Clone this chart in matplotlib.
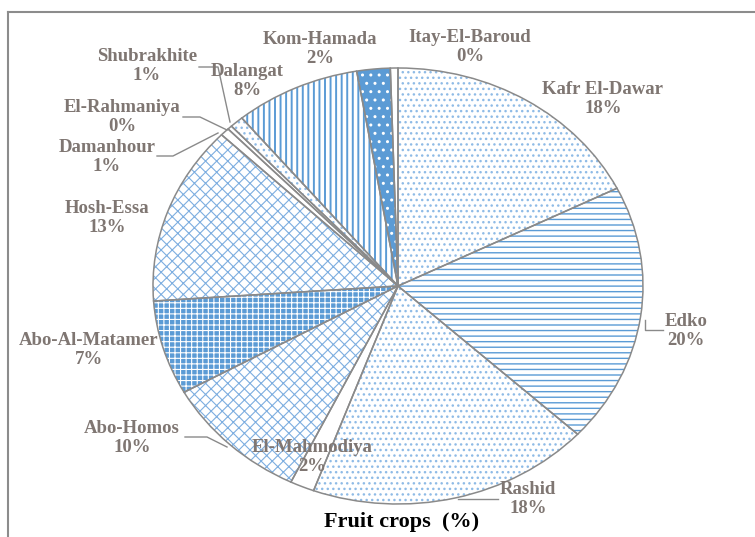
import matplotlib.pyplot as plt
from matplotlib.lines import Line2D

# slices clockwise from 12 o'clock
districts = ['Kafr El-Dawar', 'Edko', 'Rashid', 'El-Mahmodiya', 'Abo-Homos',
             'Abo-Al-Matamer', 'Hosh-Essa', 'Damanhour', 'El-Rahmaniya',
             'Shubrakhite', 'Dalangat', 'Kom-Hamada', 'Itay-El-Baroud']
shares = [17.6, 19.3, 18.7, 1.6, 9.7, 7.0, 13.3, 0.6, 0.3, 0.9, 8.3, 2.2, 0.5]
pct_labels = ['18%', '20%', '18%', '2%', '10%', '7%', '13%', '1%', '0%',
              '1%', '8%', '2%', '0%']

W, H = 755, 537
blue = '#5B9BD5'
light = '#8FBBE6'
cross = '#7DAEE0'
edge_col = '#8A8A8A'
text_col = '#7F7672'

# fill per slice: face colour, hatch, hatch colour, hatch width
fills = [
    ('white', '...', light, 1.0),
    ('white', '---', blue, 1.0),
    ('white', '...', light, 1.0),
    ('white', '', edge_col, 1.0),
    ('white', 'xxx', cross, 0.8),
    (blue, '+++', 'white', 0.8),
    ('white', 'xxx', cross, 0.8),
    ('white', '', edge_col, 1.0),
    ('white', '', edge_col, 1.0),
    ('white', '...', light, 1.0),
    ('white', '|||', blue, 1.4),
    (blue, '..', 'white', 1.0),
    ('white', '', edge_col, 1.0),
]

# label block centres in pixels (x, y from top)
label_pos = [(603, 99), (686, 331), (528, 499), (312, 457), (132, 438),
             (89, 350), (107, 218), (107, 157), (122, 117), (147, 66),
             (247, 81), (320, 49), (470, 47)]

# leader lines in pixels
leaders = [
    [(645, 320), (645, 330), (663, 330)],
    [(458, 499), (498, 499)],
    [(185, 437), (207, 437), (227, 447)],
    [(157, 156), (173, 156), (218, 133)],
    [(183, 117), (200, 117), (227, 130)],
    [(199, 67), (218, 67), (230, 122)],
]

plt.rcParams['hatch.linewidth'] = 1.0

fig = plt.figure(figsize=(W / 100, H / 100), dpi=100)
fig.patch.set_facecolor('white')

cx, cy, rx, ry = 398, 286, 245, 218
ax = fig.add_axes([(cx - rx) / W, 1 - (cy + ry) / H, 2 * rx / W, 2 * ry / H])

wedges, _ = ax.pie(shares, startangle=90, counterclock=False, radius=1,
                   wedgeprops=dict(linewidth=0))
for w, (face, hatch, hcol, hlw) in zip(wedges, fills):
    w.set_facecolor(face)
    w.set_edgecolor(hcol)
    w.set_hatch(hatch)
    if hasattr(w, 'set_hatch_linewidth'):
        w.set_hatch_linewidth(hlw)

ax.pie(shares, startangle=90, counterclock=False, radius=1,
       wedgeprops=dict(fill=False, edgecolor=edge_col, linewidth=1.1))
ax.set_aspect('auto')
ax.set_xlim(-1, 1)
ax.set_ylim(-1, 1)
ax.axis('off')

for name, pct, (x, y) in zip(districts, pct_labels, label_pos):
    fig.text(x / W, 1 - y / H, name + '\n' + pct, ha='center', va='center',
             fontsize=13.5, fontweight='bold', family='Liberation Serif',
             color=text_col, linespacing=1.1)

for pts in leaders:
    xs = [p[0] / W for p in pts]
    ys = [1 - p[1] / H for p in pts]
    fig.add_artist(Line2D(xs, ys, color=edge_col, lw=1.0))

fig.text(402 / W, 1 - 522 / H, 'Fruit crops  (%)', ha='center', va='center',
         fontsize=16, fontweight='bold', family='Liberation Serif', color='black')

# outer frame (only left and top edges visible)
fig.add_artist(Line2D([8 / W, 8 / W], [0, 1 - 12 / H], color='#8C8C8C', lw=1.5))
fig.add_artist(Line2D([8 / W, 1], [1 - 12 / H, 1 - 12 / H], color='#8C8C8C', lw=1.5))

fig.savefig('out.png', dpi=100)
